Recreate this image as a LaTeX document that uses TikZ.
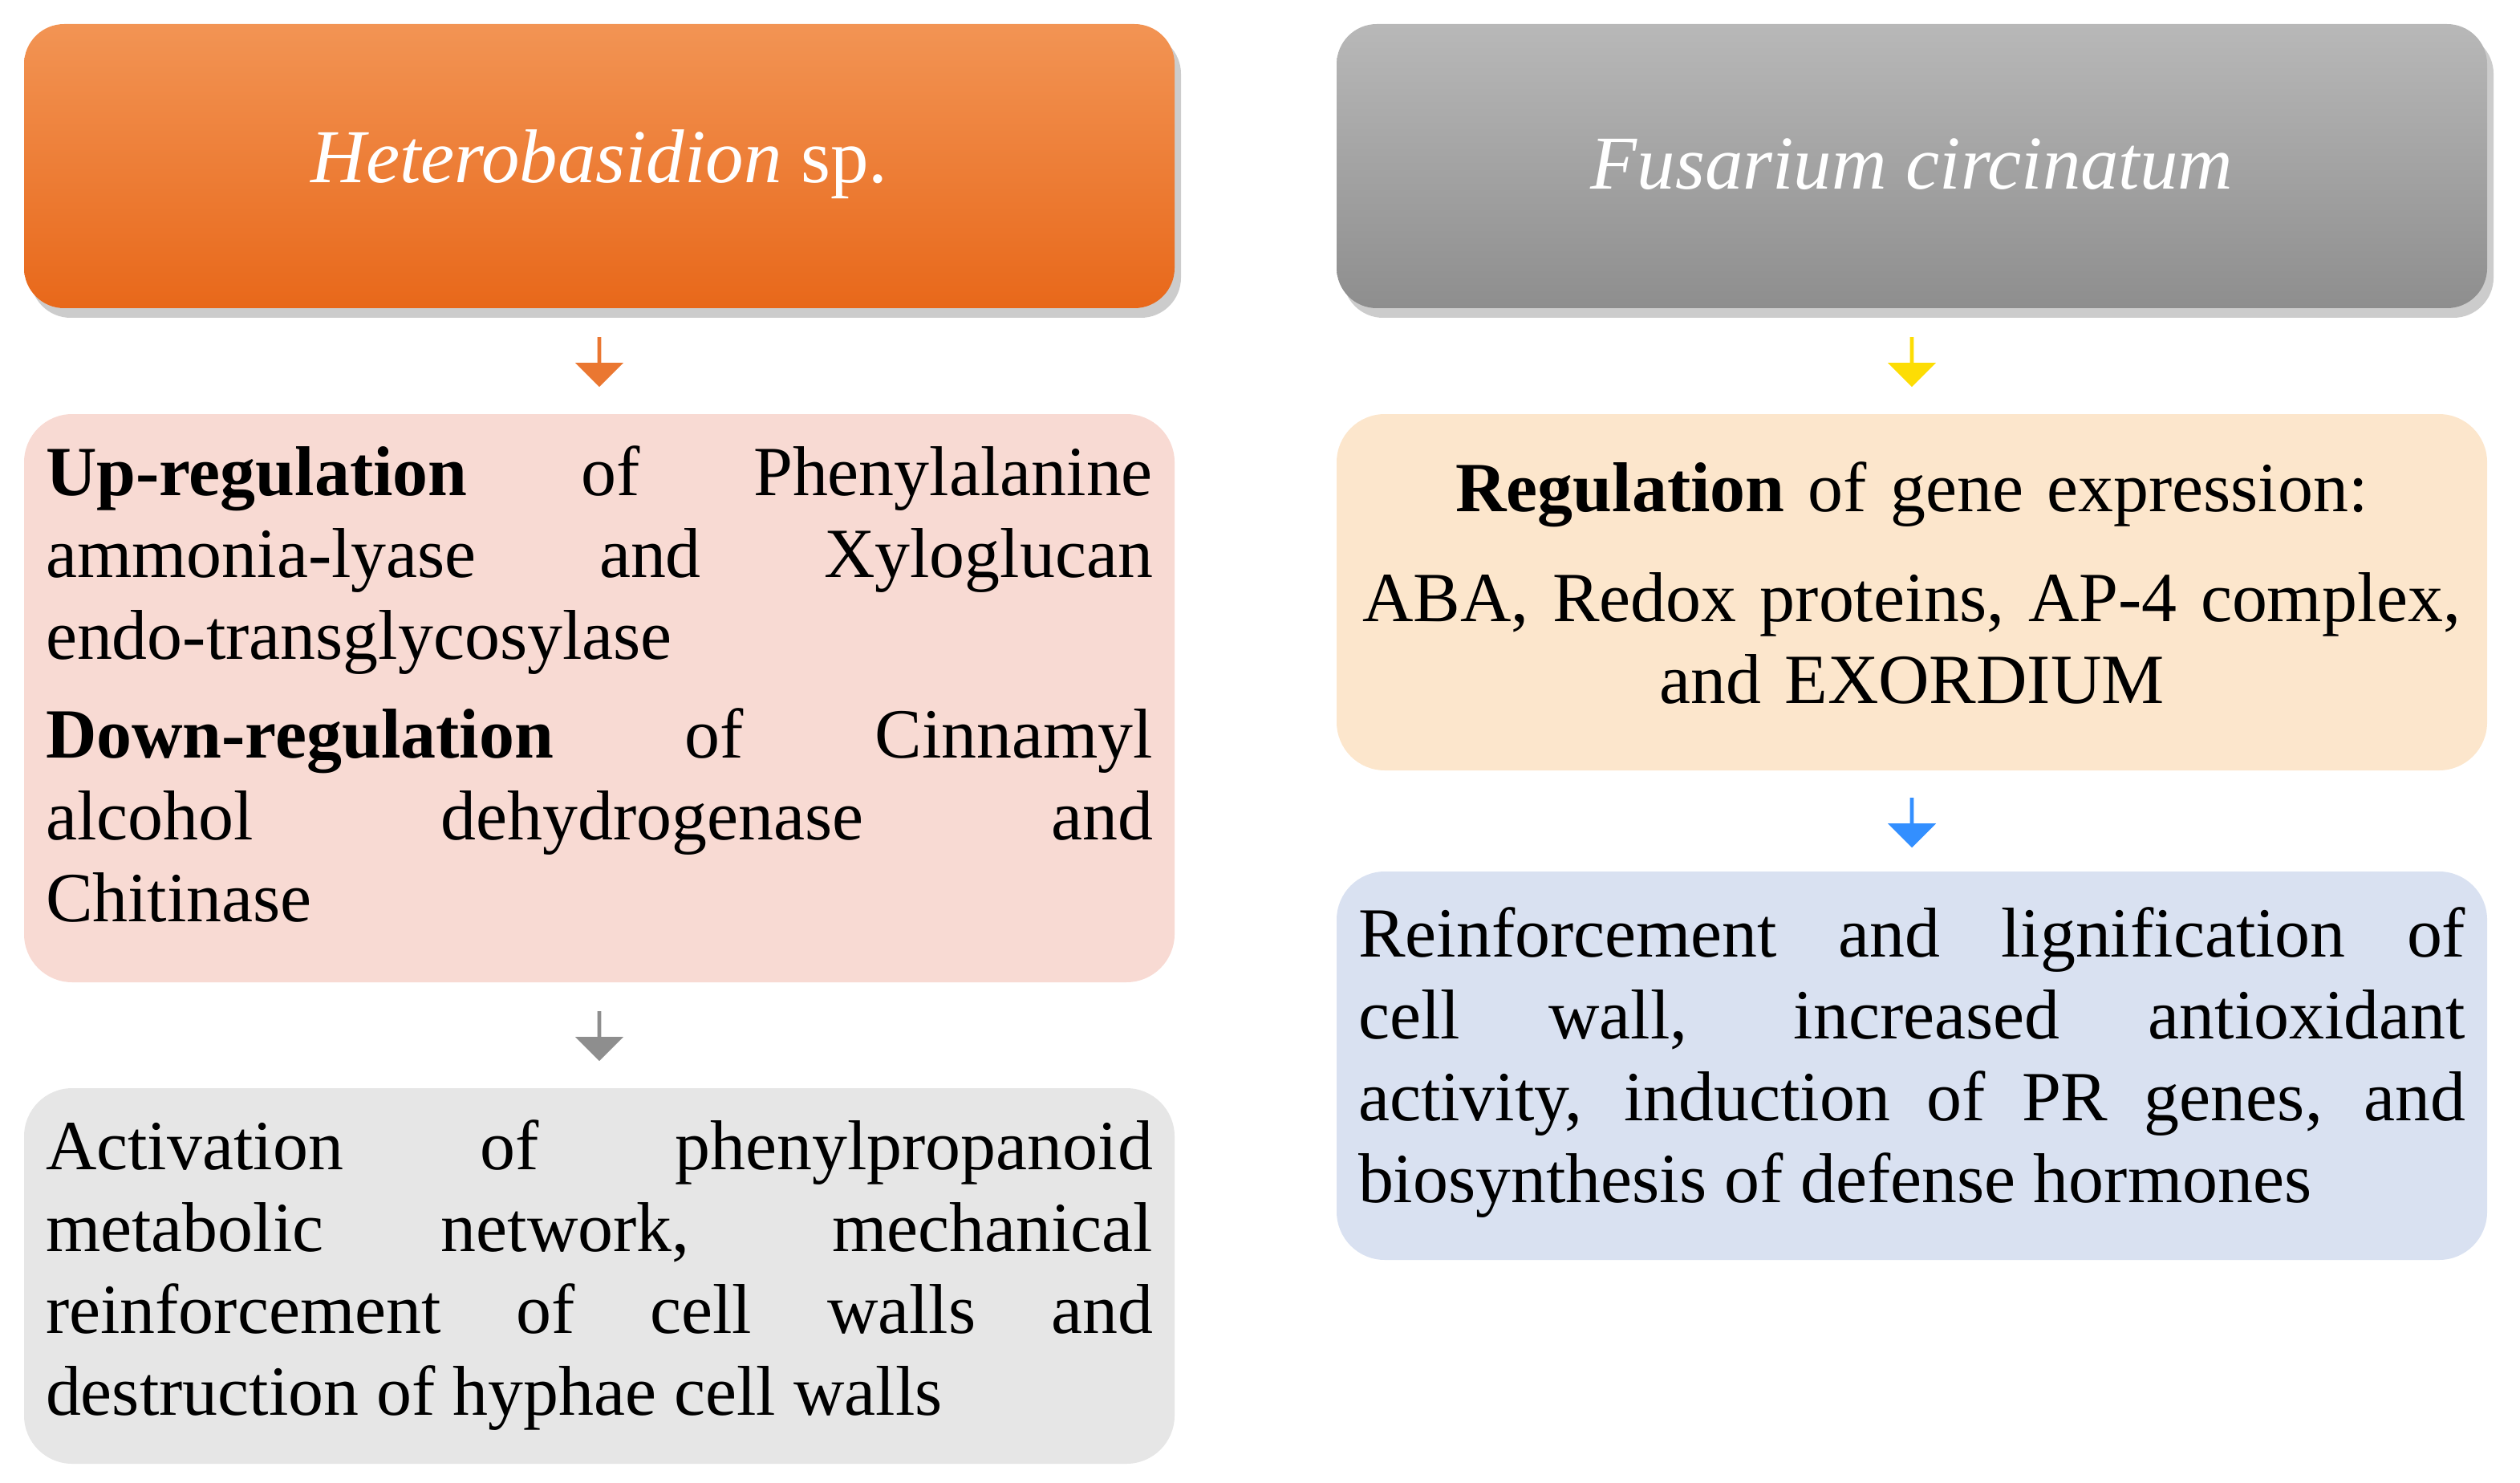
\documentclass[tikz,border=0pt]{standalone}
\usepackage{fontspec}
\setmainfont{Liberation Serif}
\usetikzlibrary{shadows,shapes.arrows}
\definecolor{orA}{HTML}{F29454}
\definecolor{orB}{HTML}{E8681A}
\definecolor{grA}{HTML}{B8B8B8}
\definecolor{grB}{HTML}{8E8E8E}
\definecolor{pinkbox}{HTML}{F8DAD3}
\definecolor{graybox}{HTML}{E6E6E6}
\definecolor{beigebox}{HTML}{FCE6CC}
\definecolor{bluebox}{HTML}{D9E1F1}
\tikzset{
 hdr/.style={rounded corners=0.5cm, drop shadow={shadow xshift=0.08cm,shadow yshift=-0.12cm,opacity=0.4}},
 box/.style={rounded corners=0.6cm},
 txt/.style={text width=13.8cm, align=justify, inner sep=0pt, font=\fontsize{25}{29}\selectfont, text=black},
 hdrtxt/.style={font=\fontsize{27}{32}\selectfont\itshape, text=white},
 barrow/.style={single arrow, draw=none, rotate=-90, minimum height=0.62cm, minimum width=0.6cm, single arrow head extend=0.08cm, inner sep=0pt}
}
\begin{document}
\begin{tikzpicture}
\useasboundingbox (0,0) rectangle (31.41,-18.48);
% headers
\path[hdr, top color=orA, bottom color=orB] (0.3,-0.3) rectangle (14.64,-3.84);
\node[hdrtxt] (h1) at (7.47,-2.05) {Heterobasidion \upshape sp.};
\path[hdr, top color=grA, bottom color=grB] (16.66,-0.3) rectangle (31.0,-3.84);
\node[hdrtxt] (h2) at (23.83,-2.05) {Fusarium circinatum};
% boxes
\fill[box, pinkbox] (0.3,-5.16) rectangle (14.64,-12.24);
\node[txt, anchor=north] (p1) at (7.47,-5.55) {\textbf{Up-regulation} of Phenylalanine\linebreak ammonia-lyase and Xyloglucan\linebreak endo-transglycosylase\par\vspace{6pt}
\textbf{Down-regulation} of Cinnamyl\linebreak alcohol dehydrogenase and\linebreak Chitinase};
\fill[box, graybox] (0.3,-13.56) rectangle (14.64,-18.24);
\node[txt, anchor=north] (p2) at (7.47,-13.95) {Activation of phenylpropanoid\linebreak metabolic network, mechanical\linebreak reinforcement of cell walls and\linebreak destruction of hyphae cell walls};
\fill[box, beigebox] (16.66,-5.16) rectangle (31.0,-9.6);
\node[txt, align=center, anchor=north] (p3) at (23.83,-5.75) {\textbf{Regulation} of gene expression:\par\vspace{10pt}ABA, Redox proteins, AP-4 complex,\\ and EXORDIUM};
\fill[box, bluebox] (16.66,-10.86) rectangle (31.0,-15.7);
\node[txt, anchor=north] (p4) at (23.83,-11.3) {Reinforcement and lignification of\linebreak cell wall, increased antioxidant\linebreak activity, induction of PR genes, and\linebreak biosynthesis of defense hormones};
% arrows
\node[barrow, fill=orB!90] (a1) at (7.47,-4.5) {};
\node[barrow, fill=yellow!80!orange] (a2) at (23.83,-4.5) {};
\node[barrow, fill=grB] (a3) at (7.47,-12.9) {};
\node[barrow, fill=blue!55!cyan!80] (a4) at (23.83,-10.24) {};
\end{tikzpicture}
\end{document}
